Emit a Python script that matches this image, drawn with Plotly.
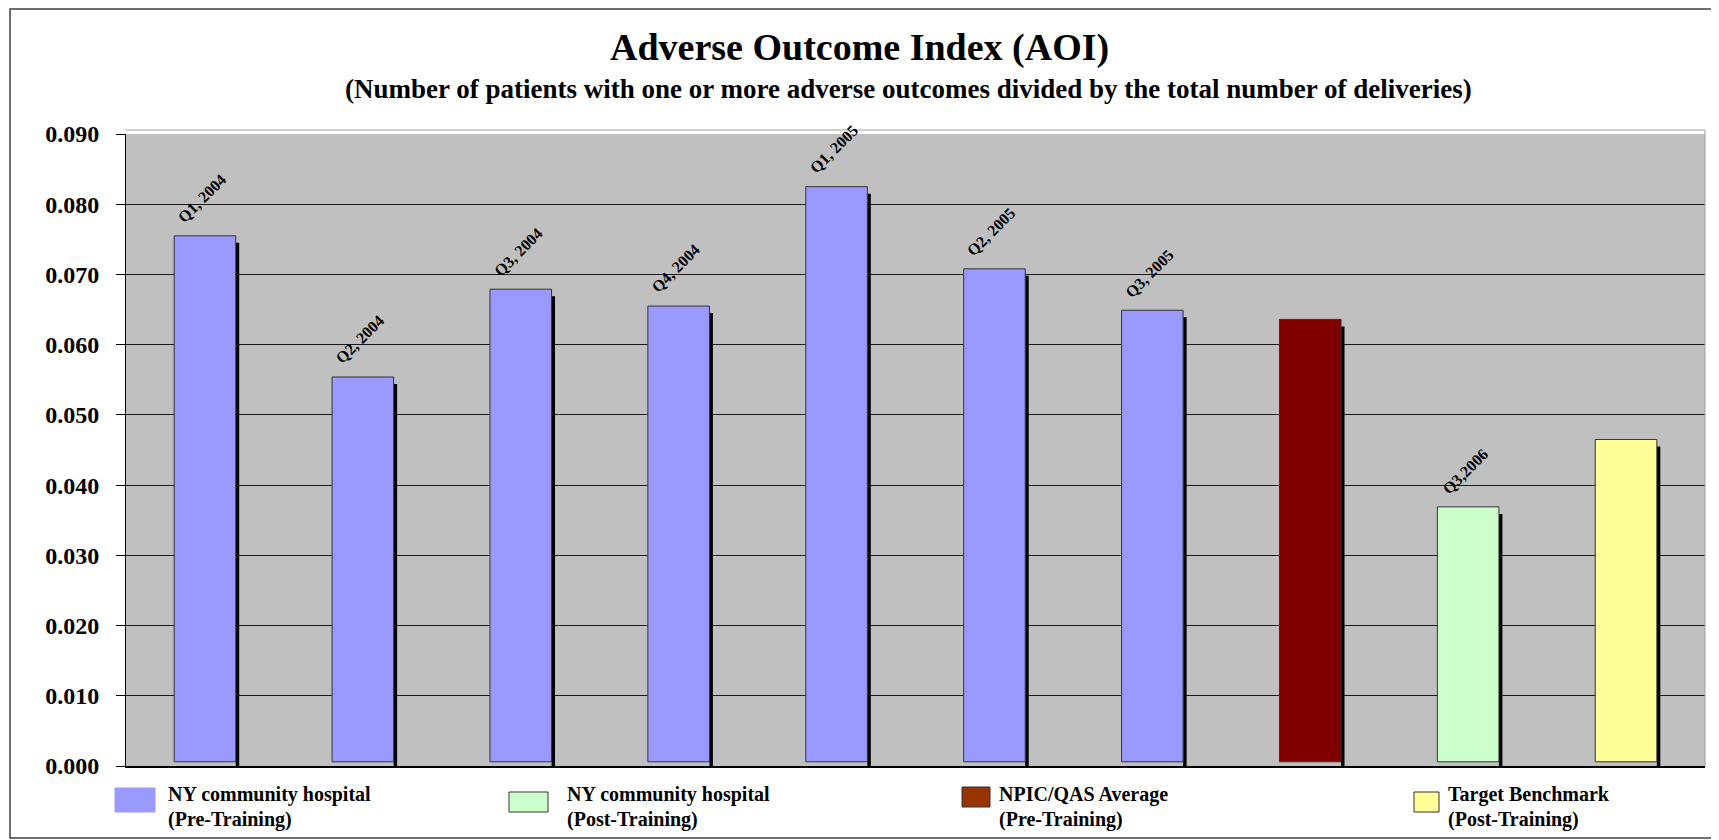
import plotly.graph_objects as go

# ---------------- data ----------------
categories = ["Q1, 2004", "Q2, 2004", "Q3, 2004", "Q4, 2004", "Q1, 2005",
              "Q2, 2005", "Q3, 2005", "NPIC/QAS Average", "Q3,2006", "Target Benchmark"]
values = [0.0755, 0.0554, 0.0679, 0.0655, 0.0825, 0.0708, 0.0649, 0.0636, 0.0369, 0.0465]
bar_labels = ["Q1, 2004", "Q2, 2004", "Q3, 2004", "Q4, 2004", "Q1, 2005",
              "Q2, 2005", "Q3, 2005", "", "Q3,2006", ""]
groups = ["pre", "pre", "pre", "pre", "pre", "pre", "pre", "npic", "post", "target"]
group_order = ["pre", "post", "npic", "target"]
group_line1 = {"pre": "NY community hospital", "post": "NY community hospital",
               "npic": "NPIC/QAS Average", "target": "Target Benchmark"}
group_line2 = {"pre": "(Pre-Training)", "post": "(Post-Training)",
               "npic": "(Pre-Training)", "target": "(Post-Training)"}
bar_colors = {"pre": "#9999FF", "post": "#CCFFCC", "npic": "#800000", "target": "#FFFF99"}
legend_colors = {"pre": "#9999FF", "post": "#CCFFCC", "npic": "#993300", "target": "#FFFF99"}
y_ticks = [0.00, 0.01, 0.02, 0.03, 0.04, 0.05, 0.06, 0.07, 0.08, 0.09]

title = "Adverse Outcome Index (AOI)"
subtitle = "(Number of patients with one or more adverse outcomes divided by the total number of deliveries)"

# ---------------- layout geometry (page pixels) ----------------
W, H = 1719, 840
OFF = 8                      # page body margin
L, R, T, B = 126, 1705, 134, 766
FONT = "Liberation Serif"


def px_x(p):
    return (p - L) / (R - L)


def px_y(p):
    return (B - p) / (B - T)


BAR_W = 0.39
BAR_BASE = 0.0006
SH_W = 0.022
SH_DY = 0.001

fig = go.Figure()

# shadows (right-hand strip of each bar)
fig.add_trace(go.Bar(
    x=categories, y=[v - SH_DY for v in values], base=0,
    width=SH_W, offset=BAR_W / 2,
    marker=dict(color="#000000", line=dict(width=0)),
    showlegend=False, hoverinfo="skip"))

# bars by group
for g in group_order:
    xs = [c for c, gg in zip(categories, groups) if gg == g]
    ys = [v - BAR_BASE for v, gg in zip(values, groups) if gg == g]
    fig.add_trace(go.Bar(
        x=xs, y=ys, base=BAR_BASE, width=BAR_W, offset=-BAR_W / 2,
        name=group_line1[g] + " " + group_line2[g],
        marker=dict(color=bar_colors[g], line=dict(color="#333333", width=1)),
        showlegend=False))

annotations = []
for c, v, lab in zip(categories, values, bar_labels):
    if lab:
        annotations.append(dict(
            x=c, y=v, xref="x", yref="y", text="<b>" + lab + "</b>", textangle=-45,
            showarrow=False, xanchor="center", yanchor="bottom",
            xshift=-3, yshift=7,
            font=dict(family=FONT, size=16, color="#000000")))

# titles
annotations.append(dict(x=px_x(859), y=px_y(48), xref="paper", yref="paper",
                        text="<b>" + title + "</b>", showarrow=False,
                        xanchor="center", yanchor="middle",
                        font=dict(family=FONT, size=38, color="#000000")))
annotations.append(dict(x=px_x(908), y=px_y(89), xref="paper", yref="paper",
                        text="<b>" + subtitle + "</b>", showarrow=False,
                        xanchor="center", yanchor="middle",
                        font=dict(family=FONT, size=27, color="#000000")))

shapes = []
# legend (manual)
legend_boxes = {"pre": (115, 788, 155, 812, False), "post": (509, 792, 548, 812, True),
                "npic": (962, 787, 990, 807, True), "target": (1414, 792, 1439, 812, True)}
legend_text_x = {"pre": 166, "post": 565, "npic": 997, "target": 1446}
for g in group_order:
    x0, y0, x1, y1, border = legend_boxes[g]
    shapes.append(dict(type="rect", xref="paper", yref="paper",
                       x0=px_x(x0), x1=px_x(x1), y0=px_y(y1), y1=px_y(y0),
                       fillcolor=legend_colors[g],
                       line=dict(color="#333333" if border else legend_colors[g], width=1)))
    annotations.append(dict(x=px_x(legend_text_x[g]), y=px_y(794), xref="paper", yref="paper",
                            text="<b>" + group_line1[g] + "</b>", showarrow=False,
                            xanchor="left", yanchor="middle",
                            font=dict(family=FONT, size=20, color="#000000")))
    annotations.append(dict(x=px_x(legend_text_x[g]), y=px_y(819), xref="paper", yref="paper",
                            text="<b>" + group_line2[g] + "</b>", showarrow=False,
                            xanchor="left", yanchor="middle",
                            font=dict(family=FONT, size=20, color="#000000")))

# plot wall edges
shapes.append(dict(type="line", xref="paper", yref="paper", x0=0, x1=1,
                   y0=px_y(130), y1=px_y(130), line=dict(color="#A0A0A0", width=1)))
shapes.append(dict(type="line", xref="paper", yref="paper", x0=1, x1=1,
                   y0=px_y(130), y1=0, line=dict(color="#A0A0A0", width=1)))
# outer border
shapes.append(dict(type="rect", xref="paper", yref="paper",
                   x0=px_x(10), x1=px_x(1716), y0=px_y(838), y1=px_y(OFF + 1),
                   line=dict(color="#404040", width=1.5), fillcolor="rgba(0,0,0,0)"))

fig.update_layout(
    width=W, height=H,
    margin=dict(l=L - OFF, r=W - (R - OFF), t=T - OFF, b=H - (B - OFF), pad=0),
    paper_bgcolor="#FFFFFF", plot_bgcolor="#C0C0C0",
    barmode="overlay", showlegend=False,
    annotations=annotations, shapes=shapes,
    font=dict(family=FONT, color="#000000"),
    xaxis=dict(type="category", categoryorder="array", categoryarray=categories,
               showticklabels=False, ticks="", showgrid=False, zeroline=False,
               showline=True, linecolor="#000000", linewidth=2,
               range=[-0.5, len(categories) - 0.5], fixedrange=True),
    yaxis=dict(range=[0, 0.09], tickvals=y_ticks, tickformat=".3f",
               showgrid=True, gridcolor="#1A1A1A", gridwidth=1, zeroline=False,
               ticks="outside", ticklen=9, tickcolor="#000000", tickwidth=1,
               showline=True, linecolor="#000000", linewidth=1,
               ticklabelstandoff=12,
               tickfont=dict(family=FONT, size=24, color="#000000", weight="bold"),
               fixedrange=True),
)

fig.write_html("out.html")
